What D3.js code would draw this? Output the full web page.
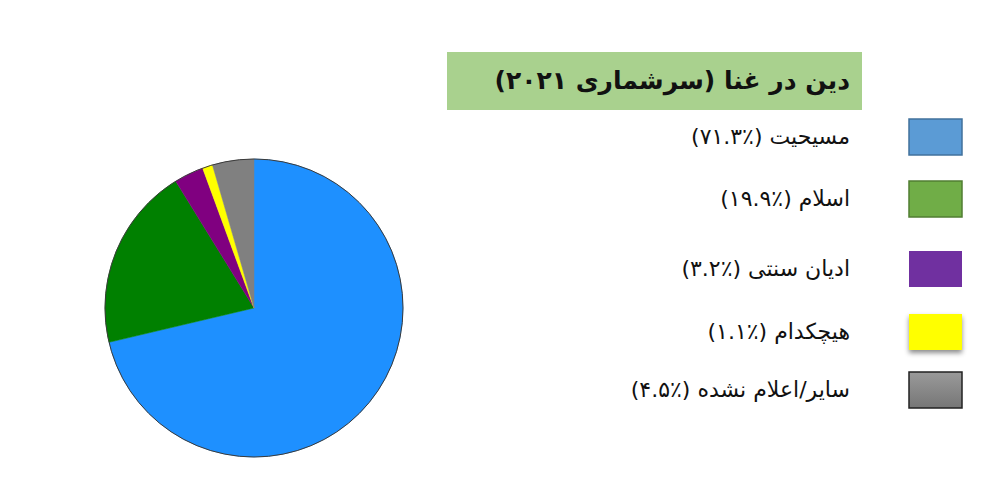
<!DOCTYPE html>
<html>
<head>
<meta charset="utf-8">
<script src="https://cdn.jsdelivr.net/npm/d3@7"></script>
<style>
  html, body { margin: 0; padding: 0; background: #fff; }
  svg { display: block; }
  text { font-family: "DejaVu Sans", sans-serif; }
</style>
</head>
<body>
<svg id="chart" width="1000" height="484"></svg>
<script>
// data
var titleText = "دین در غنا (سرشماری ۲۰۲۱)";
var religions = ["مسیحیت", "اسلام", "ادیان سنتی", "هیچکدام", "سایر/اعلام نشده"];
var shares = [71.3, 19.9, 3.2, 1.1, 4.5];
var shareLabels = ["٪۷۱.۳", "٪۱۹.۹", "٪۳.۲", "٪۱.۱", "٪۴.۵"];
var pieColors = ["#1e90ff", "#008000", "#800080", "#ffff00", "#808080"];
var swatchColors = ["#5b9bd5", "#70ad47", "#7030a0", "#ffff00", "url(#grayGrad)"];
var swatchBorders = ["#41719c", "#507e32", "none", "none", "#222"];

(function () {
  'use strict';

  var svg = d3.select("#chart");
  var defs = svg.append("defs");

  var grad = defs.append("linearGradient")
    .attr("id", "grayGrad")
    .attr("x1", 0).attr("y1", 0).attr("x2", 0).attr("y2", 1);
  grad.append("stop").attr("offset", "0%").attr("stop-color", "#9a9a9a");
  grad.append("stop").attr("offset", "100%").attr("stop-color", "#767676");

  var shadow = defs.append("filter").attr("id", "shadow")
    .attr("x", "-20%").attr("y", "-20%").attr("width", "140%").attr("height", "160%");
  shadow.append("feDropShadow")
    .attr("dx", 0).attr("dy", 3).attr("stdDeviation", 2.5)
    .attr("flood-color", "#000").attr("flood-opacity", 0.45);

  // pie
  var cx = 254, cy = 308, r = 149;
  var pie = d3.pie().sort(null).value(function (d) { return d; });
  var arc = d3.arc().innerRadius(0).outerRadius(r);

  var g = svg.append("g").attr("transform", "translate(" + cx + "," + cy + ")");
  g.selectAll("path")
    .data(pie(shares))
    .enter().append("path")
    .attr("d", arc)
    .attr("fill", function (d, i) { return pieColors[i]; })
    .attr("stroke", function (d, i) { return pieColors[i]; })
    .attr("stroke-width", 0.5);

  g.append("circle")
    .attr("r", r)
    .attr("fill", "none")
    .attr("stroke", "#3a3a3a")
    .attr("stroke-width", 1);

  // title box
  svg.append("rect")
    .attr("x", 447).attr("y", 52)
    .attr("width", 415).attr("height", 58)
    .attr("fill", "#a9d18e");

  svg.append("text")
    .attr("x", 850).attr("y", 89)
    .attr("direction", "rtl")
    .attr("text-anchor", "start")
    .style("font-size", "25px")
    .style("font-weight", "bold")
    .attr("fill", "#111")
    .text(titleText);

  // legend
  var rowY = [137, 199, 269, 332, 390];
  var legend = svg.selectAll("g.legend")
    .data(religions)
    .enter().append("g")
    .attr("class", "legend");

  legend.append("rect")
    .attr("x", 909)
    .attr("y", function (d, i) { return rowY[i] - 18; })
    .attr("width", 53).attr("height", 36)
    .attr("fill", function (d, i) { return swatchColors[i]; })
    .attr("stroke", function (d, i) { return swatchBorders[i]; })
    .attr("stroke-width", 1.5)
    .attr("filter", function (d, i) { return i === 3 ? "url(#shadow)" : null; });

  legend.append("text")
    .attr("x", 850)
    .attr("y", function (d, i) { return rowY[i] + 7; })
    .attr("direction", "rtl")
    .attr("text-anchor", "start")
    .style("font-size", "22px")
    .attr("fill", "#111")
    .text(function (d, i) { return d + " (" + shareLabels[i] + ")"; });

})();
</script>
</body>
</html>
